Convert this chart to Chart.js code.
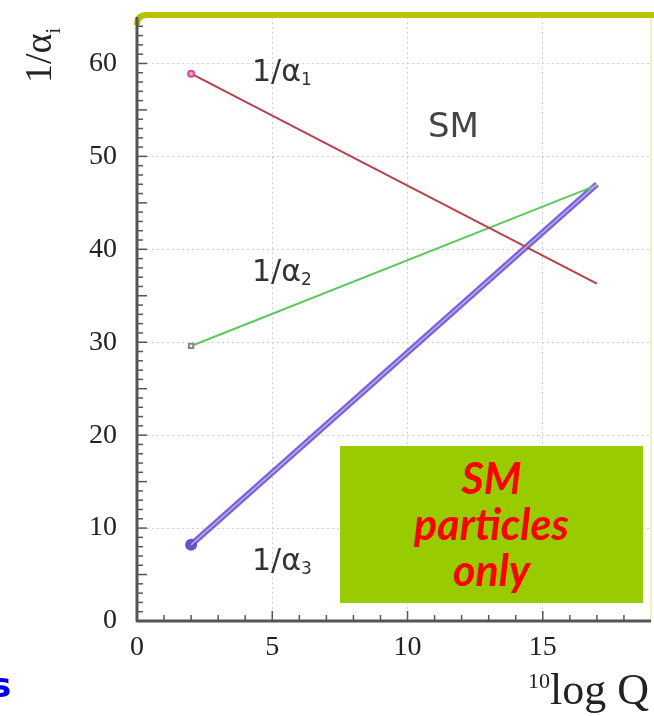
<!DOCTYPE html>
<html>
<head>
<meta charset="utf-8">
<script src="https://cdn.jsdelivr.net/npm/chart.js@4"></script>
<style>
  body { margin: 0; background: #fff; overflow: hidden; }
  #wrap { position: relative; width: 654px; height: 716px; }
  .lbl { position: absolute; white-space: nowrap; line-height: 1; }
  .alpha { font-family: "DejaVu Sans", sans-serif; font-size: 30px; color: #333; }
  .alpha sub { font-size: 17px; vertical-align: -4px; }
  #box {
    position: absolute; left: 340px; top: 446px; width: 303px; height: 157px;
    background: #99cc00; color: #ff0000; text-align: center;
    font-family: Lato, sans-serif; font-weight: bold; font-style: italic;
    font-size: 43px; line-height: 46px; padding-top: 9px; box-sizing: border-box;
  }
</style>
</head>
<body>
<div id="wrap">
  <canvas id="c" width="654" height="716"></canvas>

  <div class="lbl" style="left:8px;top:32px;width:62px;height:40px;font-family:'Liberation Serif',serif;font-size:38px;color:#222;transform:rotate(-90deg);transform-origin:center;">1/α<sub style="font-size:20px">i</sub></div>
  <div class="lbl alpha" style="left:252px;top:56px;">1/α<sub>1</sub></div>
  <div class="lbl alpha" style="left:252px;top:256px;">1/α<sub>2</sub></div>
  <div class="lbl alpha" style="left:252px;top:545px;">1/α<sub>3</sub></div>
  <div class="lbl" style="left:428px;top:108px;font-family:'DejaVu Sans',sans-serif;font-size:34px;color:#444;">SM</div>
  <div id="box">SM<br>particles<br>only</div>
  <div class="lbl" style="left:528px;top:668px;font-family:'Liberation Serif',serif;font-size:44px;color:#222;"><sup style="font-size:22px;vertical-align:16px">10</sup>log Q</div>
  <div class="lbl" style="left:-9px;top:668px;font-family:'DejaVu Sans',sans-serif;font-weight:bold;font-size:34px;color:#0000ee;">s</div>
</div>

<script>
// данные
const logQ = [2, 17];
const invAlpha1 = [58.9, 36.3];
const invAlpha2 = [29.6, 46.9];
const invAlpha3 = [8.2, 47.0];
const xTicks = [0, 5, 10, 15];
const yTicks = [0, 10, 20, 30, 40, 50, 60];

const toPts = ys => logQ.map((x, i) => ({ x, y: ys[i] }));

// мелкие засечки внутрь + жёлтая рамка сверху
const framePlugin = {
  id: "frame",
  afterDraw(chart) {
    const { ctx, chartArea: a, scales } = chart;
    ctx.save();
    ctx.strokeStyle = "#555";
    ctx.lineWidth = 1.5;
    for (let v = 1; v < 65; v++) {
      const y = scales.y.getPixelForValue(v);
      const len = v % 5 === 0 ? 10 : 6;
      ctx.beginPath(); ctx.moveTo(a.left, y); ctx.lineTo(a.left + len, y); ctx.stroke();
    }
    for (let v = 1; v < 19; v++) {
      const x = scales.x.getPixelForValue(v);
      const len = v % 5 === 0 ? 10 : 6;
      ctx.beginPath(); ctx.moveTo(x, a.bottom); ctx.lineTo(x, a.bottom - len); ctx.stroke();
    }
    // рамка
    ctx.strokeStyle = "#f0f0c0";
    ctx.lineWidth = 2;
    ctx.beginPath(); ctx.moveTo(a.right, a.top); ctx.lineTo(a.right, a.bottom); ctx.stroke();
    ctx.strokeStyle = "#b8c200";
    ctx.lineWidth = 6;
    ctx.lineJoin = "round";
    ctx.beginPath(); ctx.moveTo(a.left, a.top + 8); ctx.quadraticCurveTo(a.left, a.top - 2, a.left + 10, a.top - 2); ctx.lineTo(654, a.top - 2); ctx.stroke();
    // оси
    ctx.strokeStyle = "#555";
    ctx.lineWidth = 3;
    ctx.beginPath(); ctx.moveTo(a.left, a.top); ctx.lineTo(a.left, a.bottom); ctx.lineTo(a.right, a.bottom); ctx.stroke();
    ctx.restore();
  }
};

const serif = { family: "'Liberation Serif', serif", size: 28 };

new Chart(document.getElementById("c"), {
  type: "scatter",
  data: {
    datasets: [
      { data: toPts(invAlpha1), showLine: true, borderColor: "#b8404c", borderWidth: 2,
        pointRadius: [3, 0], pointBackgroundColor: "#f0a0c8", pointBorderColor: "#d0508c", order: 1 },
      { data: toPts(invAlpha2), showLine: true, borderColor: "#5cc85c", borderWidth: 2,
        pointRadius: [3, 0], pointStyle: "rect", pointBackgroundColor: "#fff", pointBorderColor: "#888", order: 1 },
      // светлая середина двойной линии 1/α3 — рисуется поверх
      { data: toPts(invAlpha3), showLine: true, borderColor: "#beb0f4", borderWidth: 1.5, pointRadius: 0, order: 0 },
      { data: toPts(invAlpha3), showLine: true, borderColor: "#7c62d8", borderWidth: 6,
        pointRadius: [3, 0], pointBackgroundColor: "#6a50c8", pointBorderColor: "#6a50c8", order: 2 }
    ]
  },
  options: {
    responsive: false,
    animation: false,
    layout: { autoPadding: false, padding: { top: 17, right: 3 } },
    plugins: { legend: { display: false }, tooltip: { enabled: false } },
    scales: {
      x: {
        type: "linear", min: 0, max: 19,
        afterFit: s => { s.height = 95; s.paddingRight = 0; s.paddingLeft = 0; },
        afterBuildTicks: s => { s.ticks = xTicks.map(v => ({ value: v })); },
        border: { display: false, dash: [2, 3] },
        grid: { color: "#cfcfcf", lineWidth: 1, drawTicks: false },
        ticks: { color: "#222", font: serif, padding: 10 }
      },
      y: {
        min: 0, max: 65,
        afterFit: s => { s.width = 137; s.paddingTop = 0; s.paddingBottom = 0; },
        afterBuildTicks: s => { s.ticks = yTicks.map(v => ({ value: v })); },
        border: { display: false, dash: [2, 3] },
        grid: { color: "#cfcfcf", lineWidth: 1, drawTicks: false },
        ticks: { color: "#222", font: serif, padding: 20 }
      }
    }
  },
  plugins: [framePlugin]
});
</script>
</body>
</html>
